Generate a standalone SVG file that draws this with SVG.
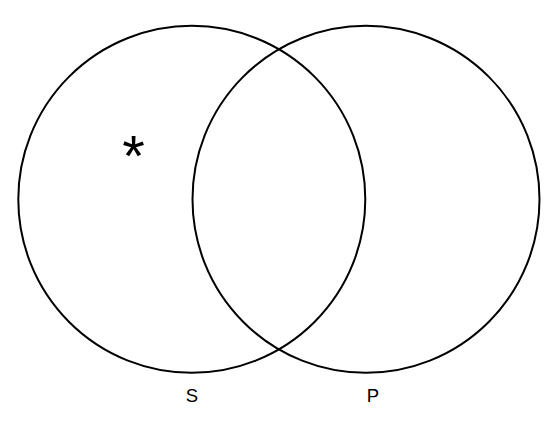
<svg xmlns="http://www.w3.org/2000/svg" width="553" height="428" viewBox="0 0 553 428">
<style>
.c{fill:none;stroke:#000;stroke-width:2}
.t{font-family:"Liberation Sans",Arial,sans-serif;font-size:18.5px;fill:#000;text-anchor:middle}
.a{font-family:"Liberation Sans",Arial,sans-serif;font-size:58px;fill:#000;text-anchor:middle}
</style>
<rect width="553" height="428" fill="#fff"/>
<g id="S"><circle class="c" cx="191.8" cy="199.3" r="173.5"/><text class="t" x="192" y="402">S</text></g>
<g id="P"><circle class="c" cx="366" cy="199.3" r="173.5"/><text class="t" x="373" y="402">P</text></g>
<g id="mark"><text class="a" x="133.5" y="176">*</text></g>
<g id="connectors"/>
</svg>
